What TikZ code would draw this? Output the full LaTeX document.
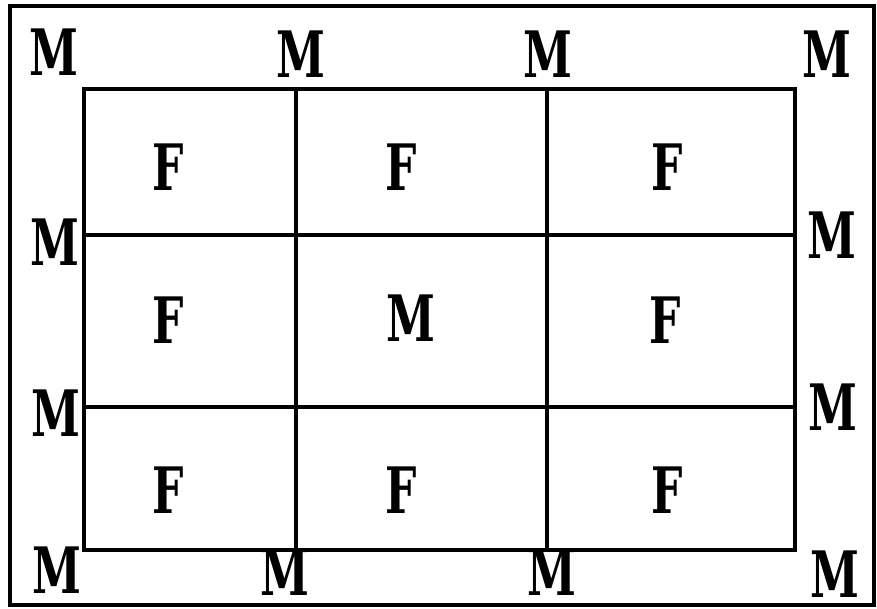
\documentclass[tikz,border=0pt]{standalone}
\usepackage{fontspec}
\newfontfamily\markfont{DejaVu Serif}
\begin{document}
\begin{tikzpicture}[x=0.75pt,y=-0.75pt,line cap=rect,line join=miter,
  letter/.style={font=\markfont\bfseries\fontsize{48}{48}\selectfont,xscale=0.69,inner sep=0pt},
  frame/.style={line width=2.7pt},
  grid/.style={line width=2.3pt}]
  \useasboundingbox (0,0) rectangle (877,608);

  % Outer frame.
  \draw[frame] (10,6) rectangle (874,605);

  % Inner three by three grid.
  \draw[grid] (84,89) rectangle (795,550);
  \draw[grid] (296,89)--(296,550);
  \draw[grid] (547,89)--(547,550);
  \draw[grid] (84,235)--(795,235);
  \draw[grid] (84,407)--(795,407);

  % Cells.
  \node[letter] (f11) at (168,167) {F};
  \node[letter] (f12) at (401,167) {F};
  \node[letter] (f13) at (667,167) {F};
  \node[letter] (f21) at (168,320) {F};
  \node[letter] (m22) at (411,318) {M};
  \node[letter] (f23) at (665,320) {F};
  \node[letter] (f31) at (168,490) {F};
  \node[letter] (f32) at (401,490) {F};
  \node[letter] (f33) at (667,490) {F};

  % Border marks.
  \node[letter] (mtl) at (54,52) {M};
  \node[letter] (mt1) at (301,54) {M};
  \node[letter] (mt2) at (548,54) {M};
  \node[letter] (mtr) at (827,54) {M};
  \node[letter] (ml1) at (55,242) {M};
  \node[letter] (ml2) at (56,413) {M};
  \node[letter] (mr1) at (832,235) {M};
  \node[letter] (mr2) at (833,407) {M};
  \node[letter] (mbl) at (57,570) {M};
  \node[letter] (mb1) at (285,572) {M};
  \node[letter] (mb2) at (552,572) {M};
  \node[letter] (mbr) at (835,574) {M};
\end{tikzpicture}
\end{document}
